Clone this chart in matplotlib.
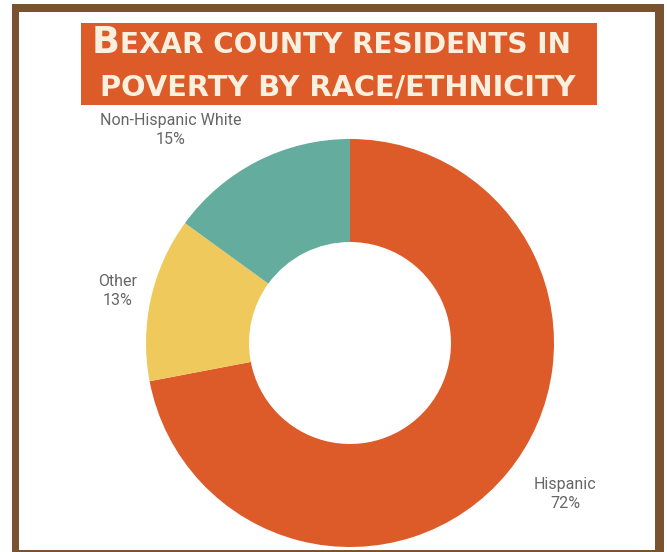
import matplotlib
matplotlib.use('Agg')
import matplotlib.pyplot as plt
from matplotlib.patches import Rectangle

# ---- data ----
labels = ['Hispanic', 'Other', 'Non-Hispanic White']
values = [72, 13, 15]
colors = ['#DD5A29', '#F0C95C', '#64AC9D']
title_line1 = 'Bexar county residents in'
title_line2 = 'poverty by race/ethnicity'

# ---- layout (pixels) ----
W, H = 667, 552
fig = plt.figure(figsize=(W / 100, H / 100), dpi=100)
fig.patch.set_facecolor('white')


def fx(px):
    return px / W


def fy(py):
    return 1 - py / H


def prect(x0, y0, x1, y1, color, z=1):
    fig.patches.append(Rectangle((fx(x0), fy(y1)), (x1 - x0) / W, (y1 - y0) / H,
                                 transform=fig.transFigure, facecolor=color,
                                 edgecolor='none', zorder=z))


# frame
brown = '#7A5230'
prect(12, 4, 664, 12, brown)
prect(12, 4, 19, 552, brown)
prect(655, 4, 664, 552, brown)
prect(12, 550, 664, 552, brown)

# title box
prect(81, 23, 597, 105, '#DD5A29')

renderer = fig.canvas.get_renderer()
tfont = 'DejaVu Sans'
tcolor = '#FAF0E0'


def fit_line(parts, x0, x1, base_y):
    # parts: list of (text, relative size)
    size = 20.0
    for _ in range(3):
        texts = []
        x = fx(x0)
        for s, rel in parts:
            t = fig.text(x, fy(base_y), s, fontsize=size * rel, family=tfont,
                         weight='bold', color=tcolor, va='baseline', ha='left')
            bb = t.get_window_extent(renderer)
            x = bb.x1 / W
            texts.append(t)
        total = x * W - x0
        for t in texts:
            t.remove()
        size *= (x1 - x0) / total
    x = fx(x0)
    for s, rel in parts:
        t = fig.text(x, fy(base_y), s, fontsize=size * rel, family=tfont,
                     weight='bold', color=tcolor, va='baseline', ha='left')
        bb = t.get_window_extent(renderer)
        x = bb.x1 / W


l1 = title_line1.upper()
fit_line([(l1[0], 1.0), (l1[1:], 0.76)], 92, 572, 53)
fit_line([(title_line2.upper(), 1.0)], 100, 577, 95)

# donut
cx, cy, R = 350, 343, 204
ax = fig.add_axes([fx(cx - R), fy(cy + R), 2 * R / W, 2 * R / H])
ax.pie(values, colors=colors, startangle=90, counterclock=False,
       wedgeprops=dict(width=0.505, edgecolor='none'), radius=1)
ax.set_xlim(-1, 1)
ax.set_ylim(-1, 1)
ax.set_aspect('equal')

label_pos = [(1.054, -0.74), (-1.137, 0.255), (-0.877, 1.044)]
for lab, v, (lx, ly) in zip(labels, values, label_pos):
    ax.text(lx, ly, f'{lab}\n{v}%', ha='center', va='center', fontsize=11.5,
            family='Roboto', color='#666666', linespacing=1.4, clip_on=False)

fig.savefig('out.png', dpi=100, facecolor='white')
